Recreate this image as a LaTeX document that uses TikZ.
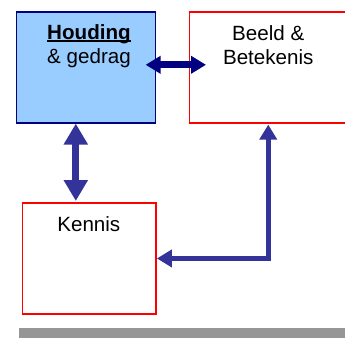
\documentclass[tikz,border=0pt]{standalone}
\usepackage{fontspec}
\setmainfont{Liberation Sans}
\usepackage{xcolor}
\usetikzlibrary{arrows.meta,positioning}

\definecolor{lichtblauw}{HTML}{99CCFF}
\definecolor{donkerblauw}{HTML}{000080}
\definecolor{pijlblauw}{HTML}{333399}
\definecolor{balkgrijs}{HTML}{969696}

\newcommand{\onderstreep}[1]{\setbox0\hbox{#1}\rlap{\rule[-2.6pt]{\wd0}{1.7pt}}\box0}

\begin{document}
\begin{tikzpicture}[x=1pt,y=-1pt,
                vak/.style = {draw=red, line width=1.6pt, inner sep=0pt, anchor=north west,
                              minimum width=133.6pt, minimum height=111.3pt},
                tekst/.style = {align=center, inner sep=0pt, font=\fontsize{20.6}{24}\selectfont},
                pijl/.style = {line width=7pt, {Triangle[width=23pt,length=21pt]}-{Triangle[width=23pt,length=21pt]}},
                dunnepijl/.style = {line width=5.5pt, {Triangle[width=17pt,length=15pt]}-{Triangle[width=17pt,length=15pt]}}]
            \useasboundingbox (0,0) rectangle (345,338);
            % de drie vakken
            \node[vak, draw=donkerblauw, fill=lichtblauw, minimum width=139pt, minimum height=111pt] (houding) at (15.7,11) {};
            \node[vak, minimum width=157.5pt, minimum height=111pt] (beeld) at (188.7,11) {};
            \node[vak] (kennis) at (21.7,202) {};
            % teksten
            \node[tekst, below=13pt of houding.north, xshift=3pt] (houdingtekst) {\onderstreep{\textbf{Houding}}\\\& gedrag};
            \node[tekst, below=14.5pt of beeld.north] (beeldtekst) {Beeld \&\\Betekenis};
            \node[tekst, below=14pt of kennis.north, xshift=-0.5pt] (kennistekst) {Kennis};
            % pijlen
            \draw[dunnepijl, donkerblauw, line width=7pt] ([xshift=-10.7pt,yshift=2.5pt]houding.east) -- ([xshift=17.3pt,yshift=2.5pt]beeld.west);
            \draw[pijl, pijlblauw] ([xshift=-10.2pt]houding.south) -- ([xshift=-13.5pt,yshift=1pt]kennis.north);
            \draw[dunnepijl, pijlblauw] ([yshift=-1pt]beeld.south) |- (kennis.east);
            % balk onderaan
            \fill[balkgrijs] (19,328) rectangle (346,338);
\end{tikzpicture}
\end{document}
